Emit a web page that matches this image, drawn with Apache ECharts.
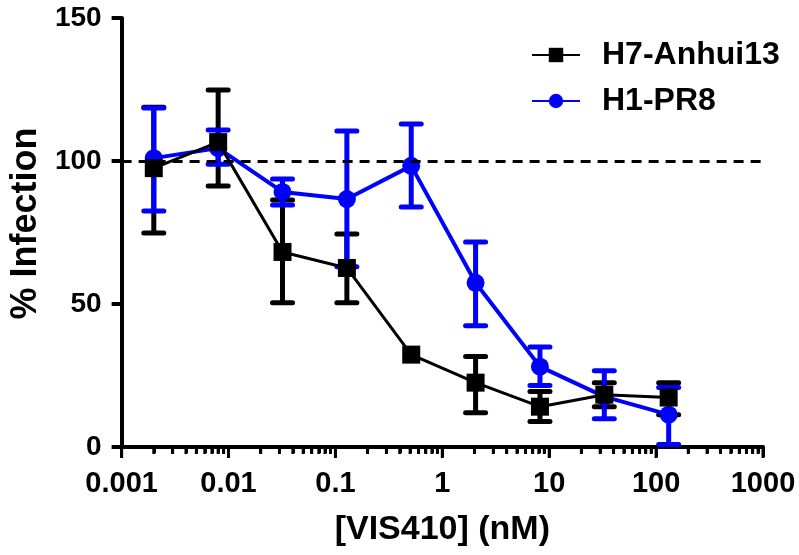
<!DOCTYPE html>
<html><head><meta charset="utf-8">
<script src="https://cdn.jsdelivr.net/npm/echarts@6/dist/echarts.min.js"></script>
<style>html,body{margin:0;padding:0;background:#fff}#c{width:799px;height:555px}</style>
</head><body><div id="c"></div>
<script>
// ---- data ----
const concentrations = [0.002, 0.008, 0.032, 0.128, 0.512, 2.048, 8.192, 32.768, 131.072];
const h7Mean = [97.5, 106.6, 68.2, 62.6, 32.3, 22.5, 14.1, 18.3, 17.3];
const h7Low  = [74.8, 91.3, 50.4, 50.4, null, 12.0, 8.9, 14.1, 11.3];
const h7High = [118.8, 124.8, 86.4, 74.5, null, 31.6, 19.4, 22.5, 22.5];
const h1Mean = [101.0, 104.5, 89.2, 86.7, 98.3, 57.4, 28.1, 17.6, 11.3];
const h1Low  = [82.5, 98.9, 84.6, 63.0, 83.9, 42.4, 21.5, 9.9, 0.9];
const h1High = [118.5, 110.8, 93.7, 110.5, 112.9, 71.7, 35.0, 26.7, 20.8];
const seriesNames = ['H7-Anhui13', 'H1-PR8'];
const xTickLabels = ['0.001', '0.01', '0.1', '1', '10', '100', '1000'];
const yTicks = [0, 50, 100, 150];
const referenceLevel = 100;
const minorDecades = [0.001, 0.01, 0.1, 1, 10, 100];
const minorMultipliers = [2, 3, 4, 5, 6, 7, 8, 9];

const FONT = '"Liberation Sans", Arial, sans-serif';
const BLUE = '#0000ff';
const tickMarks = [];
xTickLabels.forEach(t => tickMarks.push({ v: Number(t), len: 10 }));
minorDecades.forEach(d => minorMultipliers.forEach(m => tickMarks.push({ v: Number((d * m).toPrecision(3)), len: 6 })));

function errRender(color) {
  return function (params, api) {
    const x = api.value(0), lo = api.value(1), hi = api.value(2);
    if (!isFinite(lo) || !isFinite(hi)) return null;
    const pLo = api.coord([x, lo]), pHi = api.coord([x, hi]);
    const hw = 10;
    const style = { stroke: color, lineWidth: 5, lineCap: 'round' };
    return {
      type: 'group', children: [
        { type: 'line', shape: { x1: pLo[0], y1: pLo[1], x2: pHi[0], y2: pHi[1] }, style: { stroke: color, lineWidth: 5 } },
        { type: 'line', shape: { x1: pLo[0] - hw, y1: pLo[1], x2: pLo[0] + hw, y2: pLo[1] }, style },
        { type: 'line', shape: { x1: pHi[0] - hw, y1: pHi[1], x2: pHi[0] + hw, y2: pHi[1] }, style }
      ]
    };
  };
}

const chart = echarts.init(document.getElementById('c'), null, { renderer: 'canvas' });
chart.setOption({
  animation: false,
  grid: { left: 120, right: 36, top: 18, bottom: 108 },
  legend: {
    orient: 'vertical', left: 526, top: 34, itemGap: 14,
    itemWidth: 48, itemHeight: 18,
    data: seriesNames,
    textStyle: { fontFamily: FONT, fontWeight: 'bold', fontSize: 32, color: '#000', padding: [0, 0, 0, 17] }
  },
  xAxis: {
    type: 'log', logBase: 10, min: 0.001, max: 1000, interval: 1,
    name: '[VIS410] (nM)', nameLocation: 'middle', nameGap: 66,
    nameTextStyle: { fontFamily: FONT, fontWeight: 'bold', fontSize: 34, color: '#000' },
    axisLine: { show: true, lineStyle: { color: '#000', width: 4 } },
    axisTick: { show: true, length: 10, lineStyle: { color: '#000', width: 3 } },
    minorTick: { show: true, splitNumber: 9, length: 6, lineStyle: { color: '#000', width: 3 } },
    splitLine: { show: false },
    axisLabel: {
      fontFamily: FONT, fontWeight: 'bold', fontSize: 29, color: '#000', margin: 22,
      formatter: v => { const i = Math.round(Math.log10(v)) + 3; return xTickLabels[i] !== undefined ? xTickLabels[i] : ''; }
    }
  },
  yAxis: {
    type: 'value', min: yTicks[0], max: yTicks[yTicks.length - 1], interval: 50,
    name: '% Infection', nameLocation: 'middle', nameGap: 70, nameRotate: 90,
    nameTextStyle: { fontFamily: FONT, fontWeight: 'bold', fontSize: 36, color: '#000', padding: [0, 0, 0, 18] },
    axisLine: { show: true, lineStyle: { color: '#000', width: 4 } },
    axisTick: { show: true, length: 10, lineStyle: { color: '#000', width: 4 } },
    splitLine: { show: false },
    axisLabel: { fontFamily: FONT, fontWeight: 'bold', fontSize: 28, color: '#000', margin: 20 }
  },
  series: [
    {
      type: 'custom', z: 2,
      renderItem: errRender('#000'),
      data: concentrations.map((x, i) => [x, h7Low[i], h7High[i]])
    },
    {
      type: 'custom', z: 3,
      renderItem: errRender(BLUE),
      data: concentrations.map((x, i) => [x, h1Low[i], h1High[i]])
    },
    {
      type: 'line', name: seriesNames[1], z: 4,
      data: concentrations.map((x, i) => [x, h1Mean[i]]),
      symbol: 'circle', symbolSize: 18,
      lineStyle: { color: BLUE, width: 4 },
      itemStyle: { color: BLUE }
    },
    {
      type: 'line', name: seriesNames[0], z: 6,
      data: concentrations.map((x, i) => [x, h7Mean[i]]),
      symbol: 'rect', symbolSize: 18,
      lineStyle: { color: '#000', width: 3 },
      itemStyle: { color: '#000' },
      markLine: {
        silent: true, symbol: ['none', 'none'], label: { show: false },
        lineStyle: { type: [10, 7], width: 3, color: '#000' },
        data: [{ yAxis: referenceLevel }]
      }
    }
  ]
});

// tick marks below the log x axis, positioned through the chart's own scale
const tickGraphics = tickMarks.map(t => {
  const p = chart.convertToPixel({ xAxisIndex: 0, yAxisIndex: 0 }, [t.v, 0]);
  return {
    type: 'rect', silent: true, z: 100, zlevel: 2,
    shape: { x: p[0] - 1.5, y: p[1], width: 3, height: t.len + 1 },
    style: { fill: '#000' }
  };
});
chart.setOption({ graphic: { elements: tickGraphics } });
</script></body></html>
